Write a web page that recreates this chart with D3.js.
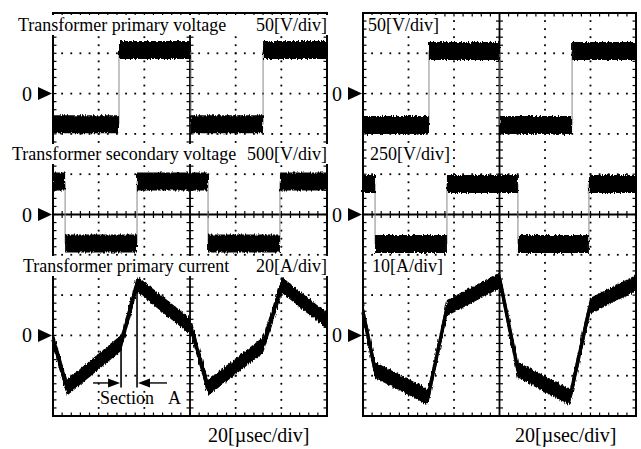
<!DOCTYPE html>
<html>
<head>
<meta charset="utf-8">
<script src="https://cdn.jsdelivr.net/npm/d3@7"></script>
<style>
body{margin:0;background:#fff;}
svg{display:block;font-family:"Liberation Serif","Times New Roman",serif;}
</style>
</head>
<body>
<div class="graphHere"></div>
<script>
// time axis: 6 divisions of 20 usec
var timeSpan = [0, 120];
var timeLabel = "20[\u00b5sec/div]";

var channelNames = ["Transformer primary voltage", "Transformer secondary voltage", "Transformer primary current"];
var zeroDivs = [2, 5, 8]; // zero level of each channel, in divisions from the top

var leftPerDiv = [50, 500, 20];
var leftScaleLabels = ["50[V/div]", "500[V/div]", "20[A/div]"];
var rightPerDiv = [50, 250, 10];
var rightScaleLabels = ["50[V/div]", "250[V/div]", "10[A/div]"];

// [time usec, value V or A]
var leftPrimaryV = [[0,-38],[28.9,-38],[28.9,54],[60.4,54],[60.4,-38],[92,-38],[92,54],[120,54]];
var leftSecondaryV = [[0,410],[5.3,410],[5.3,-360],[36.8,-360],[36.8,410],[67.9,410],[67.9,-360],[99.4,-360],[99.4,410],[120,410]];
var leftPrimaryI = [[0,-2],[6.1,-26],[29.8,-3.8],[36.8,25.5],[60.4,4.2],[67.9,-26],[92,-4.8],[100.3,25],[120,7.1]];

var rightPrimaryV = [[0,-39],[29,-39],[29,53],[60.2,53],[60.2,-39],[91.9,-39],[91.9,53],[120,53]];
var rightSecondaryV = [[0,189],[5.3,189],[5.3,-183],[36.9,-183],[36.9,189],[68.1,189],[68.1,-183],[99.3,-183],[99.3,189],[120,189]];
var rightPrimaryI = [[0,5.8],[5.3,-8.6],[28.6,-15.3],[36.9,6.8],[60.2,13.7],[68.1,-8.6],[91,-15.3],[99.8,7.3],[120,13]];

// Section A on the left current trace: [start, end] usec, levels in A
var sectionA = [29.8, 36.8];
var sectionTop = [-3.8, 25.5];
var sectionArrowLevel = -23.6;
var sectionBottomLevel = -25.8;

var width = 641, height = 449;
var svg = d3.select(".graphHere").append("svg")
  .attr("width", width)
  .attr("height", height);

// scope noise look for the traces
var filt = svg.append("defs").append("filter").attr("id", "noise")
  .attr("filterUnits", "userSpaceOnUse")
  .attr("x", 0).attr("y", 0).attr("width", width).attr("height", height);
filt.append("feTurbulence").attr("type", "fractalNoise")
  .attr("baseFrequency", "1.3 0.15").attr("numOctaves", 2).attr("seed", 7).attr("result", "n");
filt.append("feDisplacementMap").attr("in", "SourceGraphic").attr("in2", "n")
  .attr("scale", 4.5).attr("xChannelSelector", "R").attr("yChannelSelector", "G");

var top0 = 13, bottom0 = 416;
var labelBaselines = [31, 160, 272];

function drawScope(x0, x1){
  var g = svg.append("g").attr("class", "scope");
  var xs = d3.scaleLinear().domain(timeSpan).range([x0, x1]);
  var ds = d3.scaleLinear().domain([0, 10]).range([top0, bottom0]);
  var xMinor = d3.range(0, 120.001, 4);
  var yMinor = d3.range(0, 10.001, 0.2);

  // dotted grid
  [20, 40, 80, 100].forEach(function(t){
    yMinor.slice(1, -1).forEach(function(v){
      g.append("rect").attr("x", xs(t)-0.9).attr("y", ds(v)-0.9)
        .attr("width", 1.8).attr("height", 1.8).attr("fill", "#000");
    });
  });
  [1, 2, 3, 4, 6, 7, 8, 9].forEach(function(v){
    xMinor.slice(1, -1).forEach(function(t){
      g.append("rect").attr("x", xs(t)-0.9).attr("y", ds(v)-0.9)
        .attr("width", 1.8).attr("height", 1.8).attr("fill", "#000");
    });
  });

  // center cross with ticks
  g.append("line").attr("x1", xs(60)).attr("x2", xs(60)).attr("y1", ds(0)).attr("y2", ds(10))
    .attr("stroke", "#000").attr("stroke-width", 1.8);
  g.append("line").attr("x1", xs(0)).attr("x2", xs(120)).attr("y1", ds(5)).attr("y2", ds(5))
    .attr("stroke", "#000").attr("stroke-width", 1.8);
  yMinor.forEach(function(v){
    g.append("line").attr("x1", xs(60)-3.5).attr("x2", xs(60)+3.5).attr("y1", ds(v)).attr("y2", ds(v))
      .attr("stroke", "#000").attr("stroke-width", 1.2);
    g.append("line").attr("x1", xs(0)).attr("x2", xs(0)+3.5).attr("y1", ds(v)).attr("y2", ds(v))
      .attr("stroke", "#000").attr("stroke-width", 1.2);
    g.append("line").attr("x1", xs(120)-3.5).attr("x2", xs(120)).attr("y1", ds(v)).attr("y2", ds(v))
      .attr("stroke", "#000").attr("stroke-width", 1.2);
  });
  xMinor.forEach(function(t){
    g.append("line").attr("x1", xs(t)).attr("x2", xs(t)).attr("y1", ds(5)-3.5).attr("y2", ds(5)+3.5)
      .attr("stroke", "#000").attr("stroke-width", 1.2);
    g.append("line").attr("x1", xs(t)).attr("x2", xs(t)).attr("y1", ds(0)).attr("y2", ds(0)+3.5)
      .attr("stroke", "#000").attr("stroke-width", 1.2);
    g.append("line").attr("x1", xs(t)).attr("x2", xs(t)).attr("y1", ds(10)-3.5).attr("y2", ds(10))
      .attr("stroke", "#000").attr("stroke-width", 1.2);
  });

  g.append("rect").attr("x", x0).attr("y", top0).attr("width", x1-x0).attr("height", bottom0-top0)
    .attr("fill", "none").attr("stroke", "#000").attr("stroke-width", 2);

  return {g: g, xs: xs, ds: ds, x0: x0, x1: x1};
}

function channelScale(scope, zeroDiv, perDiv){
  return d3.scaleLinear().domain([0, perDiv])
    .range([scope.ds(zeroDiv), scope.ds(zeroDiv-1)]);
}

function drawTrace(scope, data, ys, half, core){
  var area = d3.area()
    .x(function(d){ return scope.xs(d[0]); })
    .y0(function(d){ return ys(d[1]) - half; })
    .y1(function(d){ return ys(d[1]) + half; });
  var line = d3.line()
    .x(function(d){ return scope.xs(d[0]); })
    .y(function(d){ return ys(d[1]); });
  // thin edge line underneath, noisy band on top
  scope.g.append("path").attr("d", line(data))
    .attr("fill", "none").attr("stroke", "#888").attr("stroke-width", 1);
  scope.g.append("path").attr("d", area(data)).attr("fill", "#000")
    .attr("filter", "url(#noise)");
  if(core){
    scope.g.append("path").attr("d", line(data))
      .attr("fill", "none").attr("stroke", "#000")
      .attr("stroke-width", 3.5).attr("stroke-linejoin", "round");
  }
}

function zeroMarker(scope, zeroDiv){
  var zy = scope.ds(zeroDiv);
  svg.append("text").attr("x", scope.x0-26).attr("y", zy+7)
    .attr("text-anchor", "middle").attr("font-size", 20).text("0");
  svg.append("path")
    .attr("d", "M" + (scope.x0-15) + "," + (zy-6.5) + "L" + (scope.x0-1) + "," + zy + "L" + (scope.x0-15) + "," + (zy+6.5) + "Z")
    .attr("fill", "#000");
}

function addText(x, y, str, anchor, size){
  return svg.append("text").attr("x", x).attr("y", y)
    .attr("text-anchor", anchor || "start").attr("font-size", size || 18).text(str);
}

var left = drawScope(53, 327);
var right = drawScope(363, 636);

var leftData = [leftPrimaryV, leftSecondaryV, leftPrimaryI];
var rightData = [rightPrimaryV, rightSecondaryV, rightPrimaryI];
var halves = [9, 9, 8];

leftData.forEach(function(d, i){
  drawTrace(left, d, channelScale(left, zeroDivs[i], leftPerDiv[i]), halves[i], i == 2);
});
rightData.forEach(function(d, i){
  drawTrace(right, d, channelScale(right, zeroDivs[i], rightPerDiv[i]), halves[i], i == 2);
});

// Section A annotation
var iScale = channelScale(left, zeroDivs[2], leftPerDiv[2]);
sectionA.forEach(function(t, i){
  left.g.append("line").attr("x1", left.xs(t)).attr("x2", left.xs(t))
    .attr("y1", iScale(sectionTop[i])).attr("y2", iScale(sectionBottomLevel))
    .attr("stroke", "#000").attr("stroke-width", 1.6);
});
var ay = iScale(sectionArrowLevel);
var sx0 = left.xs(sectionA[0]), sx1 = left.xs(sectionA[1]);
left.g.append("line").attr("x1", sx0-28).attr("x2", sx0-10).attr("y1", ay).attr("y2", ay)
  .attr("stroke", "#000").attr("stroke-width", 1.4);
left.g.append("path").attr("d", "M" + (sx0-1) + "," + ay + "L" + (sx0-13) + "," + (ay-4.5) + "L" + (sx0-13) + "," + (ay+4.5) + "Z")
  .attr("fill", "#000");
left.g.append("line").attr("x1", sx1+10).attr("x2", sx1+30).attr("y1", ay).attr("y2", ay)
  .attr("stroke", "#000").attr("stroke-width", 1.4);
left.g.append("path").attr("d", "M" + (sx1+1) + "," + ay + "L" + (sx1+13) + "," + (ay-4.5) + "L" + (sx1+13) + "," + (ay+4.5) + "Z")
  .attr("fill", "#000");
addText(100, 404, "Section");
addText(168, 404, "A");

// labels with white backing
var nameX = [18, 12, 23];
channelNames.forEach(function(name, i){
  var bg = svg.append("rect").attr("fill", "#fff");
  var a = addText(nameX[i], labelBaselines[i], name, "start");
  addText(327, labelBaselines[i], leftScaleLabels[i], "end");
  var ba = a.node().getBBox();
  bg.attr("x", ba.x-2).attr("y", ba.y).attr("width", 331-ba.x).attr("height", ba.height);
});
var rightX = [368, 370, 372];
rightScaleLabels.forEach(function(s, i){
  var bg = svg.append("rect").attr("fill", "#fff");
  var a = addText(rightX[i], labelBaselines[i], s, "start");
  var ba = a.node().getBBox();
  bg.attr("x", ba.x-1).attr("y", ba.y).attr("width", ba.width+2).attr("height", ba.height);
});

zeroDivs.forEach(function(z){
  zeroMarker(left, z);
  zeroMarker(right, z);
});

addText(208, 442, timeLabel, "start", 20);
addText(515, 442, timeLabel, "start", 20);
</script>
</body>
</html>
